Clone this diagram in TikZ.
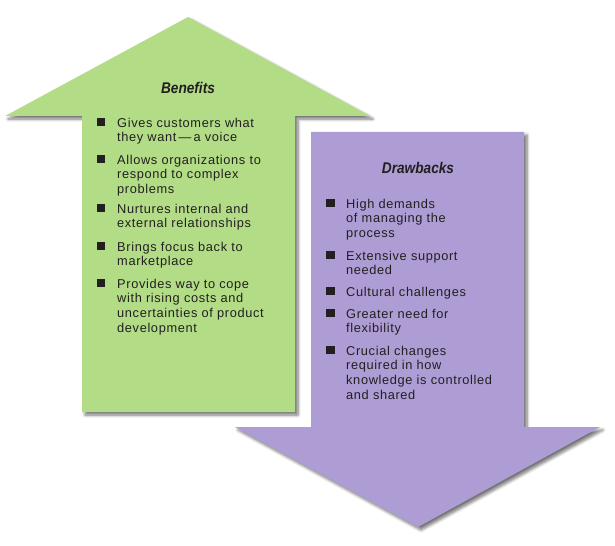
\documentclass[tikz,border=0pt]{standalone}
\usepackage{fontspec}
\setmainfont{Liberation Sans}[LetterSpace=5]
\newfontfamily\headfont{Liberation Sans}[FakeStretch=0.88]
\usetikzlibrary{shadows.blur}
\definecolor{benefitgreen}{HTML}{B2DD86}
\definecolor{drawbackpurple}{HTML}{AE9CD4}
\definecolor{inkdark}{HTML}{231F20}
% fixed height for the first line of each list item, so its top sits a known
% distance above the first baseline
\newcommand{\firstline}{\rule{0pt}{10bp}}
\tikzset{
  softshadow/.style={blur shadow={shadow xshift=3bp, shadow yshift=-3bp,
      shadow blur steps=6, shadow blur radius=3bp, shadow opacity=55}},
  heading/.style={font=\headfont\fontsize{15.5bp}{18bp}\selectfont\bfseries\itshape,
      text=inkdark, inner sep=0pt, anchor=base},
  itemtext/.style={font=\fontsize{12.8bp}{14.7bp}\selectfont, text=inkdark,
      align=left, inner sep=0pt, anchor=north west},
  sqbullet/.style={fill=inkdark, inner sep=0pt, minimum width=8.5bp,
      minimum height=8bp, anchor=south west}
}
\begin{document}
\begin{tikzpicture}[x=1bp,y=-1bp]
\useasboundingbox (0,0) rectangle (615,546);

% upward arrow: benefits
\fill[benefitgreen, softshadow]
  (82,412) -- (82,116) -- (5,116) -- (188,17) -- (370,116) -- (295,116) -- (295,412) -- cycle;

% downward arrow: drawbacks
\fill[drawbackpurple, softshadow]
  (311,132) -- (524,132) -- (524,427) -- (600,427) -- (418,527) -- (235,427) -- (311,427) -- cycle;

% benefits list (y = baseline of the first line)
\node[heading] (bhead) at (188,94) {Benefits};
\foreach \name/\y/\txt in {
  b1/127/{Gives customers what\\they want\,---\,a voice},
  b2/164/{Allows organizations to\\respond to complex\\problems},
  b3/213/{Nurtures internal and\\external relationships},
  b4/251/{Brings focus back to\\marketplace},
  b5/288/{Provides way to cope\\with rising costs and\\uncertainties of product\\development}}{
  \node[sqbullet] (\name sq) at (96.5,\y-1) {};
  \node[itemtext] (\name) at (117,\y-10) {\firstline\txt};
}

% drawbacks list
\node[heading] (dhead) at (418,174) {Drawbacks};
\foreach \name/\y/\txt in {
  d1/208/{High demands\\of managing the\\process},
  d2/260/{Extensive support\\needed},
  d3/296/{Cultural challenges},
  d4/318/{Greater need for\\flexibility},
  d5/355/{Crucial changes\\required in how\\knowledge is controlled\\and shared}}{
  \node[sqbullet] (\name sq) at (326,\y-1) {};
  \node[itemtext] (\name) at (346,\y-10) {\firstline\txt};
}
\end{tikzpicture}
\end{document}
